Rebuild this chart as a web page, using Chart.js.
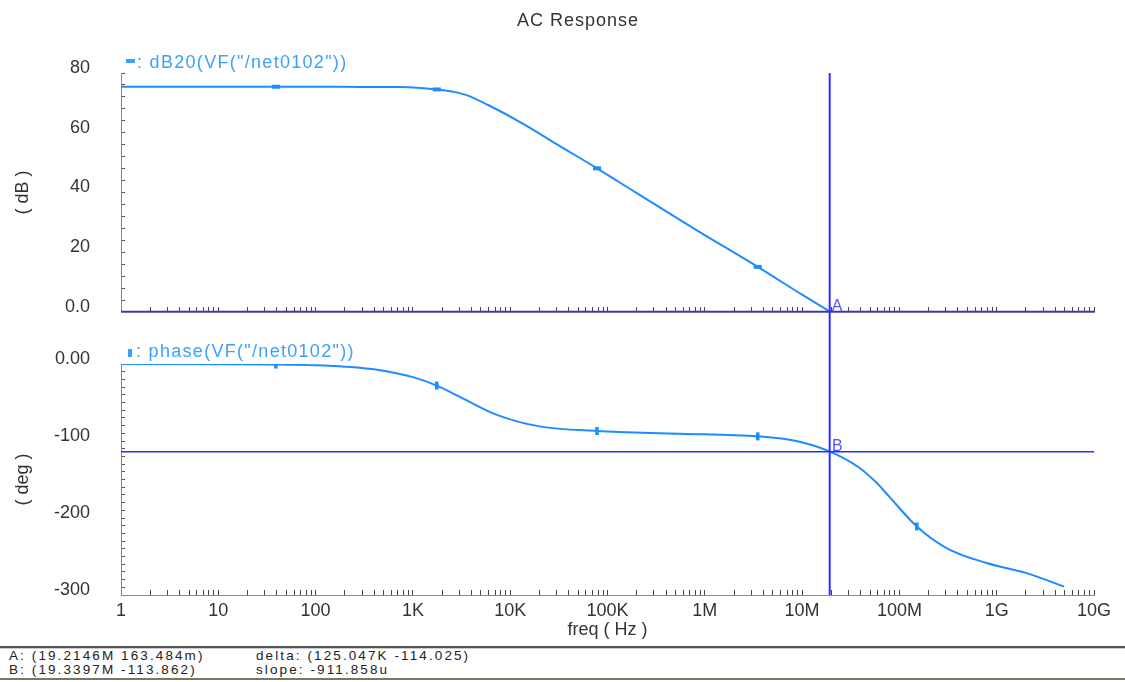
<!DOCTYPE html>
<html><head><meta charset="utf-8">
<script src="https://cdn.jsdelivr.net/npm/chart.js@4.4.0/dist/chart.umd.min.js"></script>
<style>
html,body{margin:0;padding:0;background:#fff;width:1125px;height:682px;overflow:hidden;position:relative;font-family:"Liberation Sans",Arial,sans-serif;}
#c1{position:absolute;left:0;top:0;}
#c2{position:absolute;left:0;top:340px;}
.sep{position:absolute;left:0;width:1125px;height:0;}
.st{position:absolute;font-size:13.5px;letter-spacing:2.1px;color:#222;white-space:pre;line-height:14px;}
</style></head><body>
<canvas id="c1" width="1125" height="340"></canvas>
<canvas id="c2" width="1125" height="305"></canvas>
<div class="sep" style="top:646px;border-top:2px solid #555;"></div>
<div class="sep" style="top:648px;border-top:1px solid #ccc;"></div>
<div class="st" id="sA" style="left:9px;top:649px"></div>
<div class="st" id="sD" style="left:256px;top:649px"></div>
<div class="st" id="sB" style="left:9px;top:663px"></div>
<div class="st" id="sS" style="left:256px;top:663px"></div>
<div class="sep" style="top:678px;border-top:2px solid #777766;"></div>
<script>
// ---- data ----
const decadeLabels = ['1','10','100','1K','10K','100K','1M','10M','100M','1G','10G'];
const magFreq = [1, 10, 39, 100, 300, 740, 1760, 2600, 3560, 6000, 13600, 30000, 78000, 200000, 760000, 3500000, 10000000, 19214600];
const magDb   = [75.4, 75.4, 75.4, 75.4, 75.35, 75.3, 74.5, 73.7, 72.6, 69.2, 63.0, 56.2, 48.1, 39.8, 28.1, 15.1, 5.8, 0.163];
const phaseFreq = [1, 10, 39, 100, 200, 460, 1000, 1760, 3300, 7300, 20000, 78000, 556000, 3500000, 8700000, 19339700, 39000000, 58000000, 77000000, 151000000, 305000000, 787000000, 2030000000, 4900000000];
const phaseDeg  = [0, -0.2, -0.7, -1.7, -3.5, -8, -17, -28, -45, -66, -81, -87, -90.5, -94, -100, -113.86, -135, -154, -171, -211, -239, -258.5, -271.6, -289];
const magMarkerFreq = [39, 1760, 78000, 3500000];
const phaseMarkerFreq = [39, 1760, 78000, 3500000, 151000000];
const magTickValues = [0, 20, 40, 60, 80];
const magTickLabels = ['0.0', '20', '40', '60', '80'];
const phaseTickValues = [-300, -200, -100, 0];
const phaseTickLabels = ['-300', '-200', '-100', '0.00'];
const cursorA = [19214600, 0.163484];
const cursorB = [19339700, -113.862];
const statusA = 'A: (19.2146M 163.484m)';
const statusB = 'B: (19.3397M -113.862)';
const statusDelta = 'delta: (125.047K -114.025)';
const statusSlope = 'slope: -911.858u';
const titleText = 'AC Response';
const magLegend = ': dB20(VF("/net0102"))';
const phaseLegend = ': phase(VF("/net0102"))';

document.getElementById('sA').textContent = statusA;
document.getElementById('sB').textContent = statusB;
document.getElementById('sD').textContent = statusDelta;
document.getElementById('sS').textContent = statusSlope;

const FONT = '"Liberation Sans", Arial, sans-serif';
const LINE = 'rgb(30,140,255)';
const LEGEND = 'rgb(60,160,255)';
const CURSOR = 'rgb(45,45,255)';
const CURLBL = 'rgb(85,85,255)';
const TXT = '#333';

function buildLogTicks(scale) {
  const t = [];
  for (let e = 0; e < decadeLabels.length; e++) {
    const last = e === decadeLabels.length - 1;
    for (let m = 1; m <= 9; m++) {
      t.push({ value: m * Math.pow(10, e) });
      if (last) break;
    }
  }
  scale.ticks = t;
}
function decadeLabel(v) {
  const e = Math.log10(v), r = Math.round(e);
  return Math.abs(e - r) < 1e-9 ? decadeLabels[r] : '';
}
function xScale(showLabels, height) {
  return {
    type: 'logarithmic', position: 'bottom', min: 1, max: Math.pow(10, decadeLabels.length - 1),
    afterBuildTicks: buildLogTicks,
    afterFit: s => { s.height = height; },
    grid: { drawOnChartArea: false, drawTicks: true, tickLength: -5, color: '#444', tickColor: '#444' },
    border: { display: true, color: '#8a8a8a', width: 1 },
    ticks: {
      autoSkip: false, maxRotation: 0, minRotation: 0, padding: 10,
      color: TXT, font: { family: FONT, size: 18 },
      callback: v => showLabels ? decadeLabel(v) : ''
    },
    title: showLabels ? { display: true, text: 'freq ( Hz )', color: TXT, font: { family: FONT, size: 18 }, padding: { top: 0, bottom: 4 } } : { display: false }
  };
}
function yScale(min, max, step, vals, labels, title) {
  return {
    type: 'linear', min, max,
    afterFit: s => { s.width = 121; s.paddingTop = 8; s.paddingBottom = 8; },
    grid: { drawOnChartArea: false, drawTicks: true, tickLength: -4, color: '#555', tickColor: '#555' },
    border: { display: true, color: '#8a8a8a', width: 1 },
    ticks: {
      stepSize: step, autoSkip: false, padding: 35, labelOffset: -5,
      color: TXT, font: { family: FONT, size: 18 },
      callback: v => { const i = vals.indexOf(v); return i >= 0 ? labels[i] : ''; }
    },
    title: { display: true, text: title, color: TXT, font: { family: FONT, size: 18 }, padding: { top: 12, bottom: 0 } }
  };
}

const topPlugin = {
  id: 'topDecor',
  afterDatasetsDraw(chart) {
    const { ctx, chartArea: a, scales: { x, y } } = chart;
    const px = x.getPixelForValue(cursorA[0]);
    const py = y.getPixelForValue(cursorA[1]);
    ctx.save();
    ctx.strokeStyle = CURSOR;
    ctx.lineWidth = 1.5;
    ctx.beginPath(); ctx.moveTo(a.left, py); ctx.lineTo(a.right, py); ctx.stroke();
    ctx.lineWidth = 2;
    ctx.beginPath(); ctx.moveTo(px, a.top); ctx.lineTo(px, chart.height); ctx.stroke();
    ctx.fillStyle = CURLBL;
    ctx.font = '16px ' + FONT;
    ctx.textAlign = 'left'; ctx.textBaseline = 'alphabetic';
    ctx.fillText('A', px + 2, py - 1);
    // title
    ctx.fillStyle = TXT;
    ctx.font = '18px ' + FONT;
    ctx.letterSpacing = '1px';
    ctx.textAlign = 'center';
    ctx.fillText(titleText, 578, 26);
    // legend
    ctx.fillStyle = LEGEND;
    ctx.fillRect(a.left + 5, 59, 9, 4);
    ctx.textAlign = 'left';
    ctx.letterSpacing = '1.3px';
    ctx.fillText(magLegend, a.left + 16, 68);
    ctx.restore();
  }
};
const botPlugin = {
  id: 'botDecor',
  afterDatasetsDraw(chart) {
    const { ctx, chartArea: a, scales: { x, y } } = chart;
    const px = x.getPixelForValue(cursorA[0]);
    const pxB = x.getPixelForValue(cursorB[0]);
    const py = y.getPixelForValue(cursorB[1]);
    ctx.save();
    ctx.strokeStyle = CURSOR;
    ctx.lineWidth = 1.5;
    ctx.beginPath(); ctx.moveTo(a.left, py); ctx.lineTo(a.right, py); ctx.stroke();
    ctx.lineWidth = 2;
    ctx.beginPath(); ctx.moveTo(px, 0); ctx.lineTo(px, a.bottom); ctx.stroke();
    ctx.fillStyle = CURLBL;
    ctx.font = '16px ' + FONT;
    ctx.textAlign = 'left'; ctx.textBaseline = 'alphabetic';
    ctx.fillText('B', pxB + 2, py - 1);
    // legend
    ctx.fillStyle = LEGEND;
    ctx.fillRect(a.left + 7, 9, 4, 8);
    ctx.font = '18px ' + FONT;
    ctx.letterSpacing = '1.3px';
    ctx.fillText(phaseLegend, a.left + 15, 17);
    ctx.restore();
  }
};

function series(xs, ys) { return xs.map((f, i) => ({ x: f, y: ys[i] })); }
const common = {
  responsive: false, animation: false, devicePixelRatio: 1, events: [],
  plugins: { legend: { display: false }, tooltip: { enabled: false }, title: { display: false } }
};

new Chart(document.getElementById('c1'), {
  type: 'line',
  data: { datasets: [{
    data: series(magFreq, magDb),
    borderColor: LINE, borderWidth: 2, fill: false, cubicInterpolationMode: 'monotone',
    pointStyle: 'line', pointBorderColor: LINE, pointBackgroundColor: LINE, pointBorderWidth: 4,
    pointRadius: c => (c.raw && magMarkerFreq.includes(c.raw.x)) ? 4 : 0, pointHoverRadius: 0
  }]},
  options: Object.assign({}, common, {
    layout: { padding: { top: 73, right: 31, left: 0, bottom: 0 } },
    scales: { x: xScale(false, 28), y: yScale(0, 80, 4, magTickValues, magTickLabels, '( dB )') }
  }),
  plugins: [topPlugin]
});

new Chart(document.getElementById('c2'), {
  type: 'line',
  data: { datasets: [{
    data: series(phaseFreq, phaseDeg),
    borderColor: LINE, borderWidth: 2, fill: false, cubicInterpolationMode: 'monotone',
    pointStyle: 'line', pointRotation: 90, pointBorderColor: LINE, pointBackgroundColor: LINE, pointBorderWidth: 3.5,
    pointRadius: c => (c.raw && phaseMarkerFreq.includes(c.raw.x)) ? 4 : 0, pointHoverRadius: 0
  }]},
  options: Object.assign({}, common, {
    layout: { padding: { top: 24, right: 31, left: 0, bottom: 0 } },
    scales: { x: xScale(true, 50), y: yScale(-300, 0, 10, phaseTickValues, phaseTickLabels, '( deg )') }
  }),
  plugins: [botPlugin]
});
</script>
</body></html>
